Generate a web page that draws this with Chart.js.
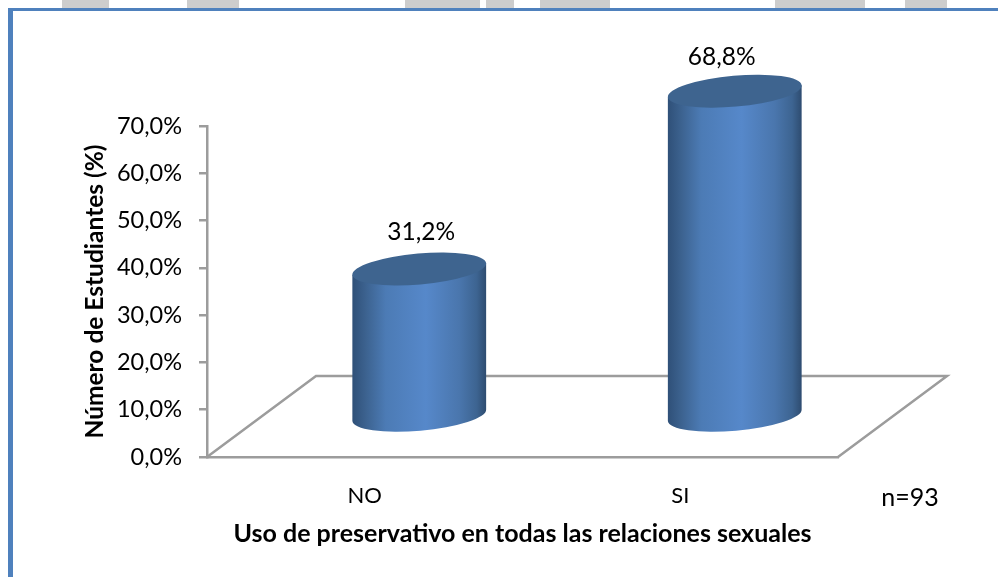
<!DOCTYPE html>
<html>
<head>
<meta charset="utf-8">
<style>
  html, body { margin: 0; padding: 0; background: #fff; overflow: hidden; }
  #wrap { position: relative; width: 998px; height: 577px; }
  #chart { position: absolute; left: 0; top: 0; }
  .frame { position: absolute; background: #4f81bd; }
  .scrap { position: absolute; top: 0; height: 8px; background: #cdcdcd; }
</style>
</head>
<body>
<div id="wrap">
  <div class="scrap" style="left:62px;width:47px"></div>
  <div class="scrap" style="left:187px;width:52px"></div>
  <div class="scrap" style="left:405px;width:75px"></div>
  <div class="scrap" style="left:486px;width:28px"></div>
  <div class="scrap" style="left:540px;width:70px"></div>
  <div class="scrap" style="left:775px;width:90px"></div>
  <div class="scrap" style="left:905px;width:42px"></div>
  <div class="frame" style="left:8px;top:8px;width:990px;height:3px"></div>
  <div class="frame" style="left:8px;top:8px;width:5px;height:569px"></div>
  <canvas id="chart" width="998" height="577"></canvas>
</div>
<script src="https://cdn.jsdelivr.net/npm/chart.js@4/dist/chart.umd.js"></script>
<script>
const categories = ['NO', 'SI'];
const usoValues = [31.2, 68.8];
const tickValues = [0, 10, 20, 30, 40, 50, 60, 70];
const sampleNote = 'n=93';

const yTitle = 'Número de Estudiantes (%)';
const xTitle = 'Uso de preservativo en todas las relaciones sexuales';

const fontName = 'Lato';
const axisGrey = '#9c9c9c';

// the floor of the fake 3D box, cylinders stand half way back on it
const depthX = 109, depthY = -81;
const tilt = -5 * Math.PI / 180;
const capRadius = 15.5;
// labels were moved by hand in the original
const labelShift = [[2, -37], [-13, -34]];

const pct = (v) => v.toFixed(1).replace('.', ',') + '%';

const drawCylinder = (ctx, bar) => {
    const halfW = bar.width / 2;
    const lean = Math.tan(-tilt) * halfW;
    const rx = halfW / Math.cos(tilt);

    const body = ctx.createLinearGradient(bar.x - halfW, 0, bar.x + halfW, 0);
    body.addColorStop(0, '#2f5078');
    body.addColorStop(0.1, '#3c628f');
    body.addColorStop(0.25, '#4c7bb5');
    body.addColorStop(0.55, '#5688ca');
    body.addColorStop(0.8, '#4a76ad');
    body.addColorStop(0.93, '#3d6491');
    body.addColorStop(1, '#2e4c70');

    ctx.beginPath();
    ctx.ellipse(bar.x, bar.base, rx, capRadius, tilt, 0, Math.PI);
    ctx.lineTo(bar.x - halfW, bar.y + lean);
    ctx.lineTo(bar.x + halfW, bar.y - lean);
    ctx.closePath();
    ctx.fillStyle = body;
    ctx.fill();

    ctx.beginPath();
    ctx.ellipse(bar.x, bar.y, rx, capRadius, tilt, 0, Math.PI * 2);
    ctx.fillStyle = '#3e648f';
    ctx.fill();
};

const cylinderPlugin = {
    id: 'cylinders',
    beforeDatasetsDraw(chart) {
        const { ctx, chartArea: a } = chart;
        ctx.save();
        ctx.strokeStyle = axisGrey;
        ctx.lineWidth = 2.5;
        ctx.beginPath();
        ctx.moveTo(a.left, a.bottom);
        ctx.lineTo(a.left + depthX, a.bottom + depthY);
        ctx.lineTo(a.right + depthX, a.bottom + depthY);
        ctx.lineTo(a.right, a.bottom);
        ctx.stroke();
        ctx.restore();
    },
    afterDatasetsDraw(chart) {
        const { ctx } = chart;
        const bars = chart.getDatasetMeta(0).data;
        ctx.save();
        ctx.translate(depthX / 2, depthY / 2);
        bars.forEach((el, i) => {
            const bar = el.getProps(['x', 'y', 'base', 'width'], true);
            drawCylinder(ctx, bar);
            ctx.fillStyle = '#000';
            ctx.font = '24.5px ' + fontName;
            ctx.textAlign = 'center';
            ctx.textBaseline = 'middle';
            ctx.fillText(pct(usoValues[i]), bar.x + labelShift[i][0], bar.y + labelShift[i][1]);
        });
        ctx.restore();

        ctx.fillStyle = '#000';
        ctx.font = '25px ' + fontName;
        ctx.textAlign = 'center';
        ctx.textBaseline = 'middle';
        ctx.fillText(sampleNote, 910, 498);
    }
};

new Chart(document.getElementById('chart'), {
    type: 'bar',
    data: {
        labels: categories,
        datasets: [{
            label: 'Uso de preservativo',
            data: usoValues,
            backgroundColor: 'transparent',
            categoryPercentage: 1,
            barPercentage: 0.424,
            clip: false
        }]
    },
    plugins: [cylinderPlugin],
    options: {
        responsive: false,
        animation: false,
        layout: { padding: { left: 0, top: 126, right: 160, bottom: 0 } },
        plugins: { legend: { display: false }, tooltip: { enabled: false } },
        scales: {
            x: {
                afterFit: (scale) => { scale.height = 120; },
                grid: { display: false },
                border: { color: axisGrey, width: 2.5 },
                ticks: { color: '#000', padding: 18, font: { family: fontName, size: 22 } },
                title: {
                    display: true,
                    text: xTitle,
                    color: '#000',
                    padding: { top: 0, bottom: 28 },
                    font: { family: fontName, size: 25, weight: 'bold' }
                }
            },
            y: {
                min: 0,
                max: 70,
                afterFit: (scale) => { scale.width = 207; },
                afterBuildTicks: (scale) => { scale.ticks = tickValues.map((value) => ({ value })); },
                grid: { drawOnChartArea: false, color: axisGrey, lineWidth: 2.5, tickLength: 8 },
                border: { color: axisGrey, width: 2.5 },
                ticks: {
                    color: '#000',
                    padding: 17,
                    font: { family: fontName, size: 23.5 },
                    callback: (v) => pct(v)
                },
                title: {
                    display: true,
                    text: yTitle,
                    color: '#000',
                    padding: { top: 80, bottom: 0 },
                    font: { family: fontName, size: 24.5, weight: 'bold' }
                }
            }
        }
    }
});
</script>
</body>
</html>
